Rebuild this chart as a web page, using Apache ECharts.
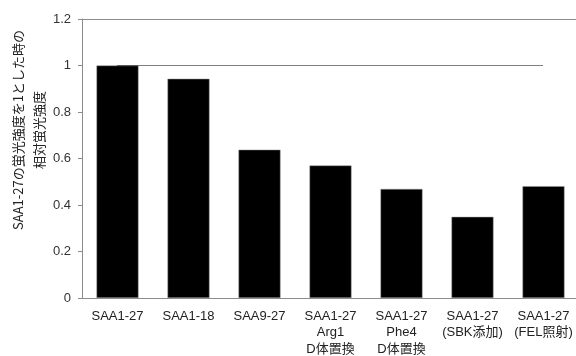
<!DOCTYPE html>
<html>
<head>
<meta charset="utf-8">
<script src="https://cdn.jsdelivr.net/npm/echarts@6/dist/echarts.min.js"></script>
<style>
  html, body { margin: 0; padding: 0; background: #fff; }
  #main { width: 576px; height: 356px; }
</style>
</head>
<body>
<div id="main"></div>
<script>
// data
const categories = [
  'SAA1-27',
  'SAA1-18',
  'SAA9-27',
  'SAA1-27\nArg1\nD体置換',
  'SAA1-27\nPhe4\nD体置換',
  'SAA1-27\n(SBK添加)',
  'SAA1-27\n(FEL照射)'
];
const intensity = [1.0, 0.943, 0.638, 0.570, 0.469, 0.349, 0.481];
const referenceLine = [1, 1, 1, 1, 1, 1, 1];
const yTicks = { min: 0, max: 1.2, interval: 0.2 };
const yTitle = 'SAA1-27の蛍光強度を1とした時の\n相対蛍光強度';

const font = "'Liberation Sans', 'Noto Sans CJK JP', sans-serif";

const chart = echarts.init(document.getElementById('main'));

const option = {
  animation: false,
  grid: {
    left: 82,
    top: 19,
    width: 497,
    bottom: 58,
    outerBoundsMode: 'none'
  },
  graphic: [{
    type: 'text',
    x: 29,
    y: 130,
    rotation: Math.PI / 2,
    style: {
      text: yTitle,
      font: "13px 'Noto Sans CJK JP', 'Liberation Sans', sans-serif",
      fill: '#222',
      align: 'center',
      verticalAlign: 'middle',
      lineHeight: 21
    }
  }],
  xAxis: [
    {
      type: 'category',
      data: categories,
      axisLine: { lineStyle: { color: '#8c8c8c' } },
      axisTick: { show: false },
      axisLabel: {
        interval: 0,
        margin: 10,
        color: '#222',
        fontFamily: font,
        fontSize: 13,
        lineHeight: 16.5
      }
    },
    {
      // top frame line of the plot area
      type: 'category',
      position: 'top',
      data: categories,
      axisLine: { show: true, lineStyle: { color: '#8c8c8c' } },
      axisTick: { show: false },
      axisLabel: { show: false }
    }
  ],
  yAxis: {
    type: 'value',
    min: yTicks.min,
    max: yTicks.max,
    interval: yTicks.interval,
    axisLine: { show: true, lineStyle: { color: '#8c8c8c' } },
    axisTick: { show: true, length: 4, lineStyle: { color: '#8c8c8c' } },
    splitLine: { show: false },
    axisLabel: {
      margin: 11,
      color: '#333',
      fontFamily: font,
      fontSize: 13
    }
  },
  series: [
    {
      type: 'bar',
      data: intensity,
      barWidth: 42,
      itemStyle: { color: '#000', borderColor: '#999', borderWidth: 0.5 }
    },
    {
      type: 'line',
      data: referenceLine,
      symbol: 'none',
      lineStyle: { color: '#000', width: 1, type: 'dotted' },
      z: 3
    }
  ]
};

chart.setOption(option);
</script>
</body>
</html>
